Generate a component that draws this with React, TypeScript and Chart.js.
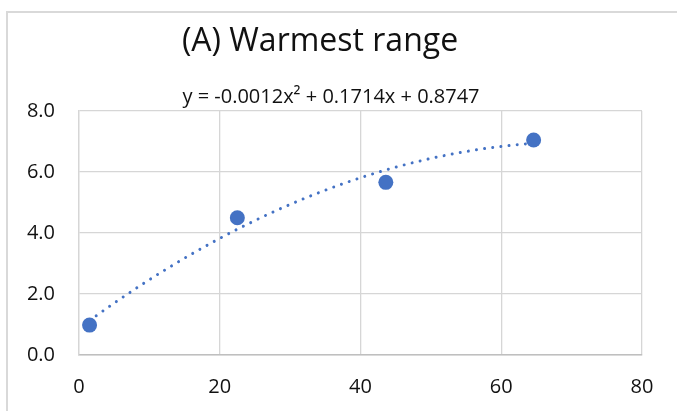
import React, { useEffect, useRef } from "react";
import { Chart, registerables } from "chart.js";

Chart.register(...registerables);

const titleText = "(A) Warmest range";
const equationText = "y = -0.0012x² + 0.1714x + 0.8747";
const xValues = [1.5, 22.5, 43.6, 64.6];
const yValues = [0.98, 4.5, 5.66, 7.05];
// trendline coefficients as printed on the chart: c0 + c1*x + c2*x^2
const trendCoefficients = [0.8747, 0.1714, -0.0012];
const xAxisMin = 0;
const xAxisMax = 80;
const xStep = 20;
const yAxisMin = 0;
const yAxisMax = 8;
const yStep = 2;

const BLUE = "#4472C4";
const TEXT = "#111111";
const FONT = "'Open Sans', sans-serif";

const framePlugin = {
  id: "frame",
  beforeDraw(chart: any) {
    const ctx = chart.ctx;
    ctx.save();
    ctx.fillStyle = "#ffffff";
    ctx.fillRect(0, 0, chart.width, chart.height);
    ctx.strokeStyle = "#d9d9d9";
    ctx.lineWidth = 2;
    ctx.beginPath();
    ctx.moveTo(7, chart.height);
    ctx.lineTo(7, 12);
    ctx.lineTo(chart.width, 12);
    ctx.stroke();
    ctx.restore();
  },
};

const trendPlugin = {
  id: "trend",
  beforeDatasetsDraw(chart: any) {
    const ctx = chart.ctx;
    const xs = chart.scales.x;
    const ys = chart.scales.y;
    const x0 = Math.min(...xValues);
    const x1 = Math.max(...xValues);
    const f = (x: number) =>
      trendCoefficients.reduce((s, c, i) => s + c * Math.pow(x, i), 0);
    ctx.save();
    ctx.strokeStyle = BLUE;
    ctx.lineWidth = 3;
    ctx.lineCap = "round";
    ctx.setLineDash([0.01, 8.2]);
    ctx.beginPath();
    const n = 200;
    for (let i = 0; i <= n; i++) {
      const x = x0 + ((x1 - x0) * i) / n;
      const px = xs.getPixelForValue(x);
      const py = ys.getPixelForValue(f(x));
      if (i === 0) ctx.moveTo(px, py);
      else ctx.lineTo(px, py);
    }
    ctx.stroke();
    ctx.restore();
  },
};

const textPlugin = {
  id: "texts",
  afterDraw(chart: any) {
    const ctx = chart.ctx;
    ctx.save();
    ctx.fillStyle = TEXT;
    ctx.textAlign = "center";
    ctx.textBaseline = "alphabetic";
    ctx.font = `32px ${FONT}`;
    ctx.fillText(titleText, 320, 51);
    ctx.font = `20px ${FONT}`;
    ctx.fillText(equationText, 331, 103);
    ctx.restore();
  },
};

export default function App() {
  const ref = useRef<HTMLCanvasElement | null>(null);
  useEffect(() => {
    if (!ref.current) return;
    const chart = new Chart(ref.current, {
      type: "scatter",
      data: {
        datasets: [
          {
            data: xValues.map((x, i) => ({ x, y: yValues[i] })),
            backgroundColor: BLUE,
            borderWidth: 0,
            pointRadius: 7.5,
            pointHoverRadius: 7.5,
          },
        ],
      },
      options: {
        animation: false,
        responsive: false,
        layout: { padding: { top: 111, right: 35, left: 0, bottom: 0 } },
        plugins: {
          legend: { display: false },
          title: { display: false },
          tooltip: { enabled: false },
        },
        scales: {
          x: {
            type: "linear",
            min: xAxisMin,
            max: xAxisMax,
            afterFit: (s: any) => {
              s.height = 56;
            },
            ticks: {
              stepSize: xStep,
              padding: 20,
              color: TEXT,
              font: { family: FONT, size: 20 },
            },
            grid: { color: "#d6d6d6", lineWidth: 1.3, drawTicks: false },
            border: { color: "#bfbfbf", width: 1.5 },
          },
          y: {
            type: "linear",
            min: yAxisMin,
            max: yAxisMax,
            afterFit: (s: any) => {
              s.width = 79;
            },
            ticks: {
              stepSize: yStep,
              padding: 24,
              color: TEXT,
              font: { family: FONT, size: 20 },
              callback: (v: any) => Number(v).toFixed(1),
            },
            grid: { color: "#d6d6d6", lineWidth: 1.3, drawTicks: false },
            border: { color: "#d6d6d6", width: 1.3 },
          },
        },
      },
      plugins: [framePlugin, trendPlugin, textPlugin],
    } as any);
    return () => chart.destroy();
  }, []);
  return (
    <div
      style={{
        position: "fixed",
        left: 0,
        top: 0,
        width: 677,
        height: 411,
        background: "#fff",
      }}
    >
      <canvas ref={ref} width={677} height={411} style={{ width: 677, height: 411 }} />
    </div>
  );
}
